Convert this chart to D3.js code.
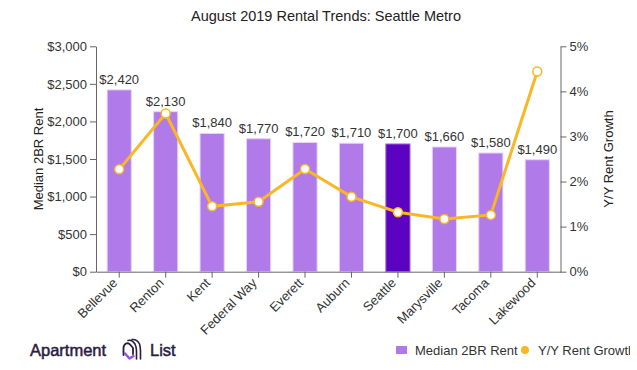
<!DOCTYPE html>
<html>
<head>
<meta charset="utf-8">
<script src="https://d3js.org/d3.v7.min.js"></script>
<style>
  body { margin: 0; background: #fff; }
  text { font-family: "Liberation Sans", Arial, sans-serif; }
</style>
</head>
<body>
<svg id="chart" width="637" height="370"></svg>
<script>
const cities = ["Bellevue", "Renton", "Kent", "Federal Way", "Everett", "Auburn", "Seattle", "Marysville", "Tacoma", "Lakewood"];
const rents = [2420, 2130, 1840, 1770, 1720, 1710, 1700, 1660, 1580, 1490];
const growth = [2.27, 3.51, 1.45, 1.55, 2.28, 1.66, 1.32, 1.17, 1.26, 4.44];
const rentTicks = [0, 500, 1000, 1500, 2000, 2500, 3000];
const growthTicks = [0, 1, 2, 3, 4, 5];

const svg = d3.select("svg#chart");
const margin = {left: 96, right: 76.5, top: 46.3, bottom: 98.3};
const width = 637, height = 370;

const x = d3.scaleBand().domain(cities).range([margin.left, width - margin.right]).paddingInner(0.48).paddingOuter(0.24);
const xPoint = d => x(d) + x.bandwidth() / 2;
const yRent = d3.scaleLinear().domain([0, 3000]).range([height - margin.bottom, margin.top]);
const yGrowth = d3.scaleLinear().domain([0, 5]).range([height - margin.bottom, margin.top]);

// title
svg.append("text")
  .attr("x", 326).attr("y", 21)
  .attr("text-anchor", "middle")
  .attr("font-size", 14.5).attr("fill", "#222")
  .text("August 2019 Rental Trends: Seattle Metro");

// bars
svg.selectAll("rect.bar").data(cities).join("rect")
  .attr("class", "bar")
  .attr("x", d => x(d))
  .attr("width", x.bandwidth())
  .attr("y", (d, i) => yRent(rents[i]))
  .attr("height", (d, i) => yRent(0) - yRent(rents[i]))
  .attr("fill", d => d === "Seattle" ? "#5c02c1" : "#b07ae8")
  .attr("stroke", d => d === "Seattle" ? "#9a66e0" : "#e6d4fa")
  .attr("stroke-width", 1);

// bar value labels
svg.selectAll("text.val").data(cities).join("text")
  .attr("class", "val")
  .attr("x", d => xPoint(d))
  .attr("y", (d, i) => yRent(rents[i]) - 6)
  .attr("text-anchor", "middle")
  .attr("font-size", 13).attr("fill", "#333")
  .text((d, i) => d3.format("$,")(rents[i]));

// axes
const axisLeft = svg.append("g")
  .attr("transform", `translate(${margin.left},0)`)
  .call(d3.axisLeft(yRent).tickValues(rentTicks).tickFormat(d3.format("$,")).tickSizeOuter(0));
const axisRight = svg.append("g")
  .attr("transform", `translate(${width - margin.right},0)`)
  .call(d3.axisRight(yGrowth).tickValues(growthTicks).tickFormat(d => d + "%").tickSizeOuter(0));
const axisBottom = svg.append("g")
  .attr("transform", `translate(0,${height - margin.bottom})`)
  .call(d3.axisBottom(x).tickSizeOuter(0));

[axisLeft, axisRight, axisBottom].forEach(g => {
  g.selectAll(".domain, .tick line").attr("stroke", "#666");
  g.selectAll("text").attr("font-size", 13).attr("fill", "#333")
    .attr("font-family", "'Liberation Sans', Arial, sans-serif");
});
axisBottom.selectAll("text")
  .attr("text-anchor", "end")
  .attr("dy", null).attr("y", 0)
  .attr("transform", "translate(-1,12) rotate(-45)");

// axis titles
svg.append("text")
  .attr("transform", `translate(43,${(margin.top + height - margin.bottom) / 2}) rotate(-90)`)
  .attr("text-anchor", "middle").attr("font-size", 13).attr("fill", "#222")
  .text("Median 2BR Rent");
svg.append("text")
  .attr("transform", `translate(613,${(margin.top + height - margin.bottom) / 2}) rotate(-90)`)
  .attr("text-anchor", "middle").attr("font-size", 13).attr("fill", "#222")
  .text("Y/Y Rent Growth");

// growth line
const line = d3.line().x((d, i) => xPoint(cities[i])).y(d => yGrowth(d));
svg.append("path")
  .datum(growth)
  .attr("d", line)
  .attr("fill", "none")
  .attr("stroke", "#fbb625")
  .attr("stroke-width", 3);
svg.selectAll("circle.pt").data(growth).join("circle")
  .attr("class", "pt")
  .attr("cx", (d, i) => xPoint(cities[i]))
  .attr("cy", d => yGrowth(d))
  .attr("r", 4.5)
  .attr("fill", "#fff")
  .attr("stroke", "#fbb625")
  .attr("stroke-width", 1.5);

// legend
const legend = svg.append("g");
legend.append("rect").attr("x", 396).attr("y", 346).attr("width", 11).attr("height", 8).attr("fill", "#b07ae8");
legend.append("text").attr("x", 415).attr("y", 355).attr("font-size", 13).attr("fill", "#333").text("Median 2BR Rent");
legend.append("circle").attr("cx", 525).attr("cy", 350).attr("r", 4).attr("fill", "#fbb625");
svg.append("clipPath").attr("id", "legclip").append("rect").attr("x", 530).attr("y", 335).attr("width", 100).attr("height", 30);
legend.append("text").attr("x", 538).attr("y", 355).attr("font-size", 13).attr("fill", "#333")
  .attr("clip-path", "url(#legclip)").text("Y/Y Rent Growth");

// logo
const logo = svg.append("g");
logo.append("text").attr("x", 30).attr("y", 356)
  .attr("font-family", "Inter, 'Noto Sans', sans-serif").attr("font-size", 16.5)
  .attr("fill", "#2a1b45").attr("stroke", "#2a1b45").attr("stroke-width", 0.5).text("Apartment");
logo.append("text").attr("x", 150).attr("y", 356)
  .attr("font-family", "Inter, 'Noto Sans', sans-serif").attr("font-size", 16.5)
  .attr("fill", "#2a1b45").attr("stroke", "#2a1b45").attr("stroke-width", 0.5).text("List");
const icon = logo.append("g").attr("transform", "translate(122,339)").attr("fill", "none")
  .attr("stroke-linecap", "round").attr("stroke-linejoin", "round");
icon.append("path").attr("d", "M1.5,16 V9 Q1.5,6 4,4.5 Q6.5,3.5 8.5,6 L11,9 V15").attr("stroke", "#2a1b45").attr("stroke-width", 1.8);
icon.append("path").attr("d", "M3,14.5 L7.5,19.5 L11.5,17").attr("stroke", "#9150e6").attr("stroke-width", 2.4);
icon.append("path").attr("d", "M6,1.5 Q10,0.5 13,5 Q14.5,8 14.5,12 V20").attr("stroke", "#2a1b45").attr("stroke-width", 1.6);
icon.append("path").attr("d", "M10,0.5 Q15,0 17.5,5 Q18.5,8 18.5,12 V20").attr("stroke", "#2a1b45").attr("stroke-width", 1.6);
</script>
</body>
</html>
